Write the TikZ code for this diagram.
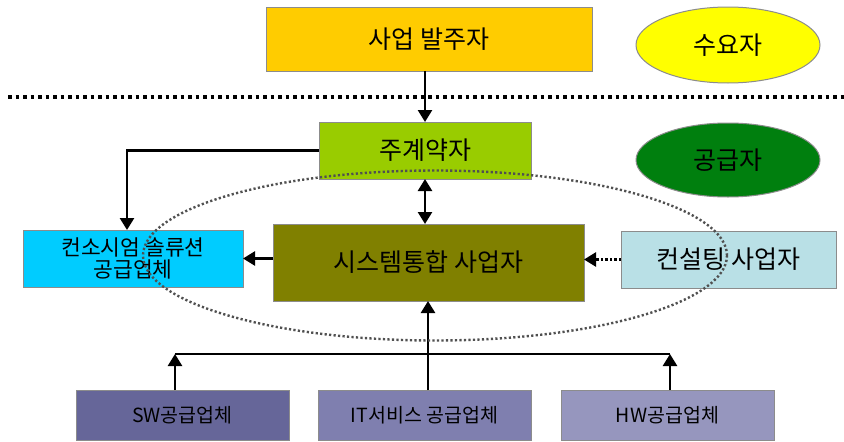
\documentclass[tikz,border=0pt]{standalone}
\usepackage{fontspec}
\setmainfont{Noto Sans CJK KR}
\usetikzlibrary{arrows.meta,shapes.geometric}
\definecolor{cBal}{HTML}{FFCC00}
\definecolor{cSuyo}{HTML}{FFFF00}
\definecolor{cJu}{HTML}{99CC00}
\definecolor{cGong}{HTML}{007F0E}
\definecolor{cSI}{HTML}{808000}
\definecolor{cCon}{HTML}{00CCFF}
\definecolor{cCs}{HTML}{B9E0E6}
\definecolor{cSW}{HTML}{666699}
\definecolor{cIT}{HTML}{7F7FAF}
\definecolor{cHW}{HTML}{9696BE}
\definecolor{cBorder}{HTML}{8C8C8C}
\definecolor{cDots}{HTML}{505050}
\tikzset{
  boxnode/.style={draw=cBorder, line width=1pt, rectangle, inner sep=0pt, outer sep=0pt, align=center, text=black},
  ovalnode/.style={draw=cBorder, line width=1pt, ellipse, inner sep=0pt, outer sep=0pt, text=black},
  bigfont/.style={font=\fontsize{25}{28}\selectfont},
  midfont/.style={font=\fontsize{21.5}{22.5}\selectfont},
  smallfont/.style={font=\fontsize{19.5}{22}\selectfont},
  link/.style={draw=black, line width=2.5pt},
  tip/.style={-{Triangle[length=12pt,width=14pt]}},
  dottedlink/.style={draw=black, line width=2.5pt, dash pattern=on 2.5pt off 2pt},
  sepline/.style={draw=black, line width=3.5pt, dash pattern=on 3.5pt off 4pt},
  circle dots/.style={draw=cDots, line width=2.4pt, dash pattern=on 2.2pt off 2.3pt}
}
\begin{document}
\begin{tikzpicture}[x=1pt,y=-1pt]
\fill[white] (0,0) rectangle (844,442);
\useasboundingbox (0,0) rectangle (844,442);

% separator
\coordinate (sepL) at (8,97);
\coordinate (sepR) at (844,97);
\draw[sepline] (sepL) -- (sepR);

% nodes
\node[boxnode, bigfont, fill=cBal, minimum width=326pt, minimum height=64pt] (bal) at (429,39) {사업 발주자};
\node[ovalnode, bigfont, fill=cSuyo, minimum width=184pt, minimum height=76pt] (suyo) at (728,45) {수요자};
\node[boxnode, bigfont, fill=cJu, minimum width=212pt, minimum height=57pt] (ju) at (425,150.5) {주계약자};
\node[ovalnode, bigfont, fill=cGong, minimum width=184pt, minimum height=74pt] (gong) at (728,160) {공급자};
\node[boxnode, bigfont, fill=cSI, minimum width=311pt, minimum height=77pt] (si) at (428.5,262.5) {시스템통합 사업자};
\node[boxnode, midfont, fill=cCon, minimum width=220pt, minimum height=57pt] (con) at (133,258.5) {컨소시엄 솔류션\\공급업체};
\node[boxnode, bigfont, fill=cCs, minimum width=215pt, minimum height=57pt] (cs) at (728.5,259.5) {컨설팅 사업자};
\node[boxnode, smallfont, fill=cSW, minimum width=213pt, minimum height=50pt] (sw) at (182.5,415) {SW공급업체};
\node[boxnode, smallfont, fill=cIT, minimum width=213pt, minimum height=50pt] (it) at (424.5,415) {IT서비스 공급업체};
\node[boxnode, smallfont, fill=cHW, minimum width=213pt, minimum height=50pt] (hw) at (667.5,415) {HW공급업체};

% connectors
\draw[link, tip] (bal.south -| ju.north) -- (ju.north);
\draw[link, tip] (ju.west) -| ([xshift=-6pt]con.north);
\draw[link, {Triangle[length=12pt,width=14pt]}-{Triangle[length=12pt,width=14pt]}] (ju.south) -- (ju.south |- si.north);
\draw[link, tip] (con.east -| si.west) -- (con.east);
\draw[dottedlink, tip] (cs.west) -- (cs.west -| si.east);

\coordinate (busL) at (175,354);
\coordinate (busR) at (670,354);
\draw[link] (busL) -- (busR);
\draw[link, tip] ([xshift=-7.5pt]sw.north) -- ([xshift=-7.5pt]sw.north |- busL);
\draw[link, tip] ([xshift=2.5pt]hw.north) -- ([xshift=2.5pt]hw.north |- busR);
\draw[link, tip] ([xshift=3.5pt]it.north) -- ([xshift=3.5pt]it.north |- si.south);

% dotted ellipse
\draw[circle dots] (435,255.5) ellipse [x radius=292pt, y radius=85pt];
\end{tikzpicture}
\end{document}
